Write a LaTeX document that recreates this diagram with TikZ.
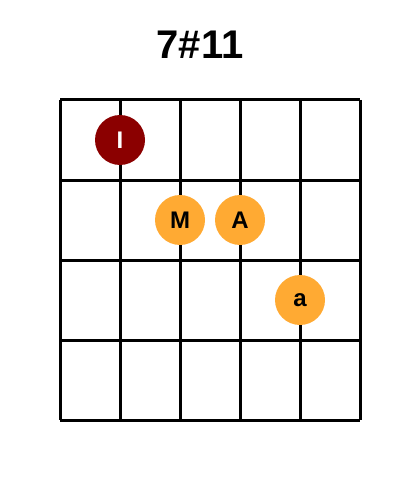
\documentclass[tikz,border=0pt]{standalone}
\usepackage{fontspec}
\setmainfont{Liberation Sans}
\usepackage{tikz}
\tikzset{>=latex}
\definecolor{fingerred}{HTML}{8B0000}
\definecolor{fingerorange}{HTML}{FFAA33}
\tikzset{
	dotroot/.style={circle,fill=fingerred,inner sep=0pt,minimum size=50pt,text=white,font=\fontsize{24}{24}\selectfont\bfseries},
	dotnote/.style={circle,fill=fingerorange,inner sep=0pt,minimum size=50pt,text=black,font=\fontsize{24}{24}\selectfont\bfseries}
}
\begin{document}
\begin{tikzpicture}[x=1pt,y=-1pt]
	\useasboundingbox (0,0) rectangle (400,500);
	\node (title) at (200,45) {\fontsize{40}{40}\selectfont\bfseries 7\#11};

	\foreach \x in {60,120,...,360}
		\draw [line width=3pt] (\x,100) -- (\x,420);
	\foreach \y in {100,180,...,420}
		\draw [line width=3pt] (60,\y) -- (360,\y);

	\node [dotroot] (root) at (120,140) {I};
	\node [dotnote] (third) at (180,220) {M};
	\node [dotnote] (seventh) at (240,220) {A};
	\node [dotnote] (eleventh) at (300,300) {a};
\end{tikzpicture}
\end{document}
